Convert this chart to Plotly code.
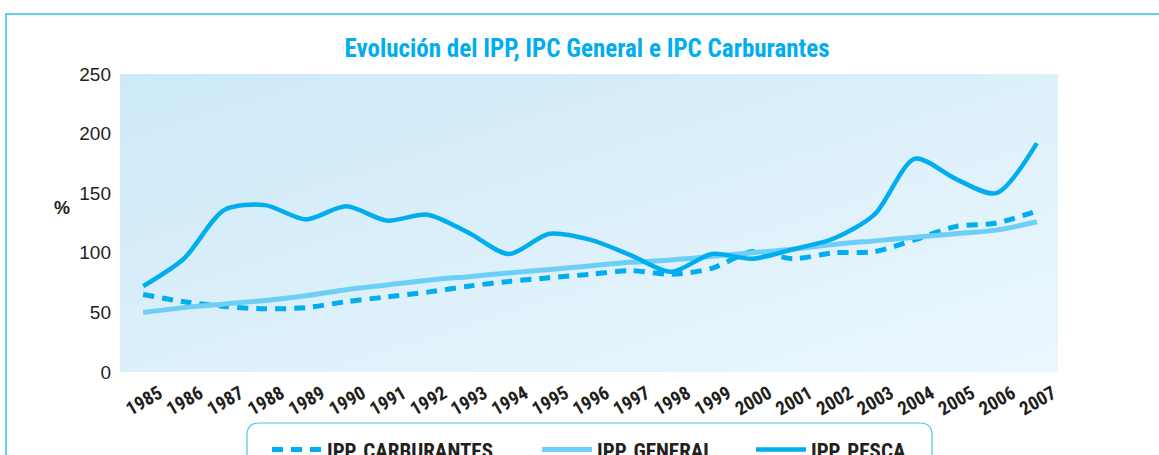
import numpy as np
import plotly.graph_objects as go

years = list(range(1985, 2008))
ipp_carburantes = [65, 59, 55, 53, 54, 59, 63, 67, 72, 76, 79, 82, 85, 82, 87, 101, 95, 100, 101, 111, 122, 125, 135]
ipp_general = [50, 54, 57, 60, 64, 69, 73, 77, 80, 83, 86, 89, 92, 94, 97, 100, 103, 107, 110, 113, 116, 119, 126]
ipp_pesca = [72, 95, 136, 140, 128, 139, 127, 132, 117, 99, 116, 111, 98, 84, 99, 95, 103, 112, 132, 179, 162, 150, 192]
y_ticks = [0, 50, 100, 150, 200, 250]
year_labels = [str(y) for y in years]

COND = "Liberation Sans Narrow, Roboto Condensed, Roboto, sans-serif"
DARK = "#231f20"
W, H = 1159, 455

x0, x1 = 1984.43, 2007.52
fig = go.Figure()

# background gradient (styling only)
gx = np.linspace(x0, x1, 40)
gy = np.linspace(0, 250, 30)
GX, GY = np.meshgrid((gx - x0) / (x1 - x0), 1 - gy / 250)
Z = (GX + GY) / 2
fig.add_trace(go.Heatmap(x=gx, y=gy, z=Z, colorscale=[[0, "#cde9f8"], [1, "#ecf7fd"]],
                         showscale=False, hoverinfo="skip", zsmooth="best", showlegend=False))

fig.add_trace(go.Scatter(x=years, y=ipp_carburantes, mode="lines", name="IPP. CARBURANTES",
                         line=dict(color="#00aeef", width=5, dash="11px,8px", shape="spline", smoothing=0.8),
                         legend="legend"))
fig.add_trace(go.Scatter(x=years, y=ipp_general, mode="lines", name="IPP. GENERAL",
                         line=dict(color="#6dcff6", width=5, shape="spline", smoothing=0.8),
                         legend="legend2"))
fig.add_trace(go.Scatter(x=years, y=ipp_pesca, mode="lines", name="IPP. PESCA",
                         line=dict(color="#00aeef", width=4.5, shape="spline", smoothing=0.8),
                         legend="legend3"))

legfont = dict(family=COND, size=21, color=DARK, weight="bold")
common_leg = dict(orientation="h", yanchor="middle", y=-0.2615, xanchor="left",
                  bgcolor="rgba(0,0,0,0)", borderwidth=0, font=legfont, itemwidth=50)
fig.update_layout(
    legend=dict(x=0.1567, **common_leg),
    legend2=dict(x=0.4446, **common_leg),
    legend3=dict(x=0.6727, **common_leg),
)

# rounded legend frame
lx0, lx1 = 0.1354, 0.8657
lyt, lyb = -0.1711, -0.34
rx, ry = 0.0128, 0.0403
path = (f"M {lx0},{lyb} L {lx0},{lyt - ry} Q {lx0},{lyt} {lx0 + rx},{lyt} "
        f"L {lx1 - rx},{lyt} Q {lx1},{lyt} {lx1},{lyt - ry} L {lx1},{lyb}")
fig.add_shape(type="path", path=path, xref="paper", yref="paper",
              line=dict(color="#4fc3ee", width=1.2))
# outer frame
fig.add_shape(type="path", path="M -0.1215,-0.4 L -0.1215,1.2013 L 1.2,1.2013",
              xref="paper", yref="paper", line=dict(color="#62cdf0", width=2))

fig.add_annotation(text="<b>%</b>", x=-0.0725, y=0.5503, xref="paper", yref="paper",
                   showarrow=False, font=dict(family="Liberation Sans", size=18, color=DARK))

fig.update_layout(
    width=W, height=H,
    margin=dict(l=120, r=101, t=74, b=83, autoexpand=False),
    paper_bgcolor="white", plot_bgcolor="#dcf0fa",
    title=dict(text="<b>Evolución del IPP, IPC General e IPC Carburantes</b>",
               x=587 / W, xref="container", xanchor="center",
               y=1 - 48 / H, yref="container", yanchor="middle",
               font=dict(family=COND, size=25, color="#00aeef")),
    xaxis=dict(range=[x0, x1], tickmode="array", tickvals=years, ticktext=year_labels,
               tickangle=-30, tickfont=dict(family=COND, size=19, color=DARK, weight="bold"),
               ticklabelshift=16, ticklabelstandoff=6,
               showgrid=False, zeroline=False, showline=False, ticks=""),
    yaxis=dict(range=[0, 250], tickmode="array", tickvals=y_ticks,
               tickfont=dict(family="Liberation Sans", size=19, color=DARK),
               ticklabelstandoff=8,
               showgrid=False, zeroline=False, showline=False, ticks=""),
    showlegend=True,
)

fig.write_html("out.html", config={"displayModeBar": False},
               post_script="document.body.style.margin='0';")
